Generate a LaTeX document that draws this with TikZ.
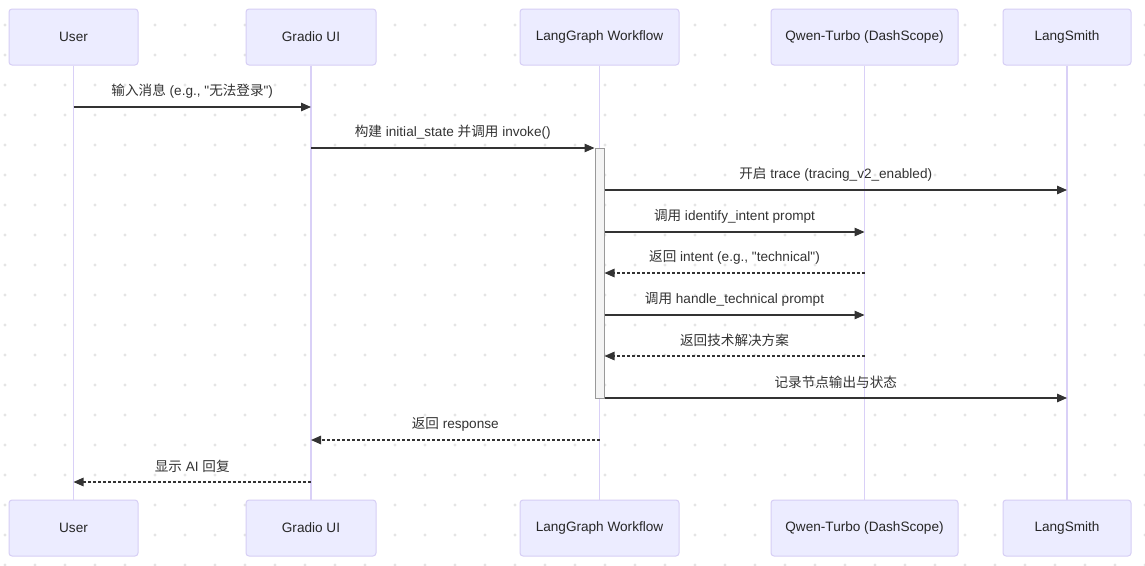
\documentclass[tikz,border=0pt]{standalone}
\usepackage{fontspec}
\setmainfont{Liberation Sans}[Ligatures=TeXOff]
\newfontfamily\cjk{Noto Sans CJK SC}[Ligatures=TeXOff]
\usetikzlibrary{arrows.meta}

\definecolor{boxfill}{HTML}{ECECFF}
\definecolor{boxline}{HTML}{D6CEF5}
\definecolor{lifeline}{HTML}{D9D0F7}
\definecolor{msgline}{HTML}{333333}
\definecolor{actfill}{HTML}{F4F4F4}
\definecolor{actline}{HTML}{999999}
\definecolor{gridot}{HTML}{E4E4E4}

\newcommand{\zh}[1]{{\cjk #1}}

\tikzset{
  actor/.style={draw=boxline, fill=boxfill, rounded corners=3pt, line width=1pt,
    minimum height=56pt, inner sep=0pt, text=black!85,
    font=\fontsize{13.6}{16}\selectfont},
  life/.style={draw=lifeline, line width=1.6pt},
  msg/.style={draw=msgline, line width=1.3pt, -{Triangle[length=10pt,width=8.5pt]}},
  reply/.style={msg, dash pattern=on 3pt off 2pt},
  lbl/.style={midway, yshift=16pt, text=msgline, font=\fontsize{13.6}{16}\selectfont}
}

\begin{document}
\begin{tikzpicture}[x=1pt,y=-1pt]
            \useasboundingbox (0,0) rectangle (1145,565);
            \fill[white] (0,0) rectangle (1145,565);
            \foreach \x in {5,35,...,1145}
                \foreach \y in {25,55,...,565}
                    \fill[gridot] (\x,\y) circle (1.6);

            \node[actor, minimum width=129pt] (user) at (73.5,37) {User};
            \node[actor, minimum width=130pt] (gradio) at (311,37) {Gradio UI};
            \node[actor, minimum width=159pt] (graph) at (599.5,37) {LangGraph Workflow};
            \node[actor, minimum width=187pt] (qwen) at (864.5,37) {Qwen-Turbo (DashScope)};
            \node[actor, minimum width=128pt] (smith) at (1067,37) {LangSmith};

            \node[actor, minimum width=129pt] (userB) at (73.5,528) {User};
            \node[actor, minimum width=130pt] (gradioB) at (311,528) {Gradio UI};
            \node[actor, minimum width=159pt] (graphB) at (599.5,528) {LangGraph Workflow};
            \node[actor, minimum width=187pt] (qwenB) at (864.5,528) {Qwen-Turbo (DashScope)};
            \node[actor, minimum width=128pt] (smithB) at (1067,528) {LangSmith};

            \draw[life] (user) -- (userB);
            \draw[life] (gradio) -- (gradioB);
            \draw[life] (graph) -- (graphB);
            \draw[life] (qwen) -- (qwenB);
            \draw[life] (smith) -- (smithB);

            \node[draw=actline, fill=actfill, line width=1pt, inner sep=0pt,
                minimum width=9pt, minimum height=250pt, anchor=north] (act) at (599.5,148) {};

            \coordinate (m1) at (0,107);
            \coordinate (m2) at (0,148);
            \coordinate (m3) at (0,190);
            \coordinate (m4) at (0,232);
            \coordinate (m5) at (0,273);
            \coordinate (m6) at (0,315);
            \coordinate (m7) at (0,356);
            \coordinate (m8) at (0,398);
            \coordinate (m9) at (0,440);
            \coordinate (m10) at (0,482);

            \draw[msg] (user |- m1) -- (gradio |- m1)
                node[lbl] {\zh{输入消息} (e.g., "\zh{无法登录}")};
            \draw[msg] (gradio |- m2) -- (act.west |- m2)
                node[lbl] {\zh{构建} initial\_state \zh{并调用} invoke()};
            \draw[msg] (act.east |- m3) -- (smith |- m3)
                node[lbl] {\zh{开启} trace (tracing\_v2\_enabled)};
            \draw[msg] (act.east |- m4) -- (qwen |- m4)
                node[lbl] {\zh{调用} identify\_intent prompt};
            \draw[reply] (qwen |- m5) -- (act.east |- m5)
                node[lbl] {\zh{返回} intent (e.g., "technical")};
            \draw[msg] (act.east |- m6) -- (qwen |- m6)
                node[lbl] {\zh{调用} handle\_technical prompt};
            \draw[reply] (qwen |- m7) -- (act.east |- m7)
                node[lbl] {\zh{返回技术解决方案}};
            \draw[msg] (act.east |- m8) -- (smith |- m8)
                node[lbl] {\zh{记录节点输出与状态}};
            \draw[reply] (graph |- m9) -- (gradio |- m9)
                node[lbl] {\zh{返回} response};
            \draw[reply] (gradio |- m10) -- (user |- m10)
                node[lbl] {\zh{显示} AI \zh{回复}};
        \end{tikzpicture}
\end{document}
